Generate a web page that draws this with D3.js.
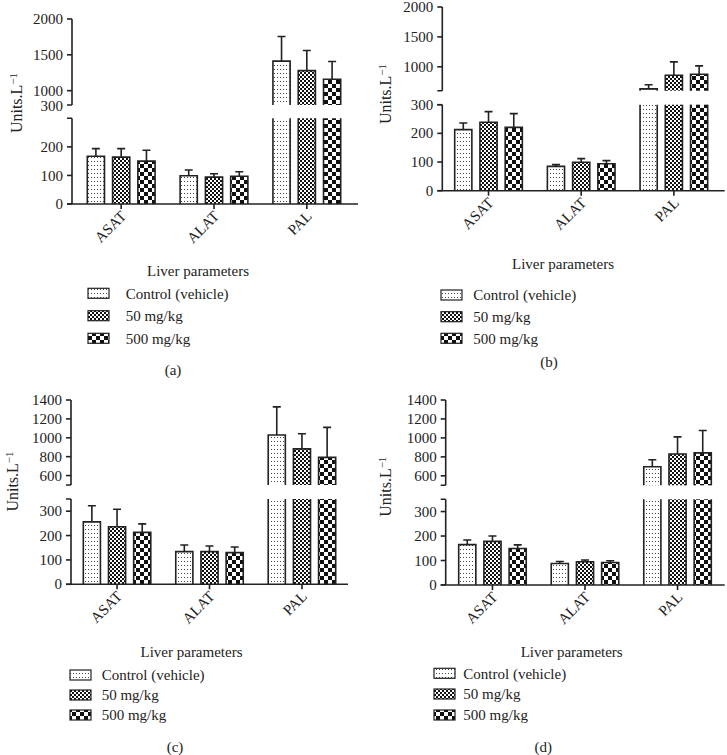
<!DOCTYPE html>
<html><head><meta charset="utf-8">
<script src="https://cdn.jsdelivr.net/npm/d3@7"></script>
<style>body{margin:0;background:#fff}svg{display:block}text{font-family:"Liberation Serif","Times New Roman",serif;fill:#222}</style>
</head><body>
<svg id="c" width="727" height="755"></svg>
<script>
// ---------- DATA ----------
const groups = ["ASAT", "ALAT", "PAL"];
const seriesNames = ["Control (vehicle)", "50 mg/kg", "500 mg/kg"];
const panelLabels = ["(a)", "(b)", "(c)", "(d)"];
const xAxisTitle = "Liver parameters";
// means per group (rows) and series (columns)
const meansA = [[167, 164, 150], [99, 94, 97], [1412, 1280, 1160]];
const errA   = [[27, 30, 38], [20, 12, 16], [344, 280, 246]];
const meansB = [[213, 239, 221], [85, 99, 94], [630, 859, 875]];
const errB   = [[23, 37, 48], [6, 13, 11], [70, 223, 141]];
const meansC = [[256, 236, 213], [134, 134, 130], [1029, 883, 792]];
const errC   = [[66, 72, 35], [27, 23, 23], [298, 160, 318]];
const meansD = [[165, 178, 149], [88, 95, 92], [696, 831, 842]];
const errD   = [[19, 22, 15], [8, 7, 7], [74, 180, 236]];
// axis domains / ticks
const lowerDomainAB = [0, 300], upperDomainA = [800, 2000], upperDomainB = [600, 2000];
const lowerDomainCD = [0, 350], upperDomainCD = [500, 1400];
const lowerTicksA = [0, 100, 200], upperTicksA = [1000, 1500, 2000], breakLabelA = "300";
const lowerTicksB = [0, 100, 200, 300], upperTicksB = [1000, 1500, 2000];
const lowerTicksCD = [0, 100, 200, 300], upperTicksCD = [600, 800, 1000, 1200, 1400];

const panels = [
  {means: meansA, errs: errA, low: lowerDomainAB, up: upperDomainA, lt: lowerTicksA, ut: upperTicksA, breakLabel: breakLabelA},
  {means: meansB, errs: errB, low: lowerDomainAB, up: upperDomainB, lt: lowerTicksB, ut: upperTicksB},
  {means: meansC, errs: errC, low: lowerDomainCD, up: upperDomainCD, lt: lowerTicksCD, ut: upperTicksCD},
  {means: meansD, errs: errD, low: lowerDomainCD, up: upperDomainCD, lt: lowerTicksCD, ut: upperTicksCD}
];

// ---------- LAYOUT ----------
const layouts = [
  {yAxisX: 72, xEnd: 358, band: [87.3, 340.7], lowR: [204, 118.3], upR: [105, 19], ylab: [17, 103], xt: [198, 271], legX: 88, legTX: 125.7, legY: [293.3, 315.7, 338.3], title: [173, 370]},
  {yAxisX: 442.3, xEnd: 724.7, band: [454.7, 707.7], lowR: [190.7, 104.7], upR: [90.7, 7], ylab: [386, 94], xt: [563, 264], legX: 441, legTX: 473.3, legY: [295, 316.7, 338.3], title: [549, 361.7]},
  {yAxisX: 71, xEnd: 348, band: [83.3, 335.7], lowR: [584.3, 499], upR: [485, 400], ylab: [13, 481.5], xt: [191.5, 651.7], legX: 70, legTX: 101.7, legY: [675, 695, 715], title: [175, 746.7]},
  {yAxisX: 445.7, xEnd: 724.7, band: [458.7, 711.3], lowR: [585, 499.3], upR: [485.3, 400], ylab: [386, 486.7], xt: [571.7, 651.7], legX: 434, legTX: 463.3, legY: [673.3, 694, 715], title: [543.3, 746.7]}
];
const FS = 15;

const svg = d3.select("#c");
const defs = svg.append("defs");
// patterns
const pDots = defs.append("pattern").attr("id", "p0").attr("patternUnits", "userSpaceOnUse").attr("width", 3).attr("height", 4);
pDots.append("rect").attr("width", 3).attr("height", 4).attr("fill", "#fff");
pDots.append("rect").attr("x", 1).attr("y", 1).attr("width", 1).attr("height", 1).attr("fill", "#444");
const pFine = defs.append("pattern").attr("id", "p1").attr("patternUnits", "userSpaceOnUse").attr("width", 4).attr("height", 4);
pFine.append("rect").attr("width", 4).attr("height", 4).attr("fill", "#fff");
pFine.append("rect").attr("width", 2).attr("height", 2).attr("fill", "#111");
pFine.append("rect").attr("x", 2).attr("y", 2).attr("width", 2).attr("height", 2).attr("fill", "#111");
const pCoarse = defs.append("pattern").attr("id", "p2").attr("patternUnits", "userSpaceOnUse").attr("width", 8).attr("height", 8);
pCoarse.append("rect").attr("width", 8).attr("height", 8).attr("fill", "#fff");
pCoarse.append("rect").attr("width", 4).attr("height", 4).attr("fill", "#111");
pCoarse.append("rect").attr("x", 4).attr("y", 4).attr("width", 4).attr("height", 4).attr("fill", "#111");
const fills = ["url(#p0)", "url(#p1)", "url(#p2)"];

const SW = 1.6, TICK = 5;

panels.forEach((p, i) => {
  const L = layouts[i];
  const g = svg.append("g");
  const yLow = d3.scaleLinear().domain(p.low).range(L.lowR);
  const yUp = d3.scaleLinear().domain(p.up).range(L.upR);
  const x0 = d3.scaleBand().domain(groups).range(L.band).paddingInner(0.27).paddingOuter(0);
  const x1 = d3.scaleBand().domain(d3.range(3)).range([0, x0.bandwidth()]).paddingInner(0.32).paddingOuter(0);

  // bars
  groups.forEach((grp, gi) => {
    p.means[gi].forEach((v, si) => {
      const bx = x0(grp) + x1(si), bw = x1.bandwidth();
      const base = yLow(0);
      const lowTop = yLow(Math.min(v, p.low[1]));
      g.append("rect").attr("x", bx).attr("y", lowTop).attr("width", bw).attr("height", base - lowTop).attr("fill", fills[si]);
      let outline;
      if (v <= p.low[1]) {
        outline = `M${bx},${base}V${lowTop}H${bx + bw}V${base}`;
      } else {
        outline = `M${bx},${base}V${lowTop}M${bx + bw},${base}V${lowTop}`;
        const upB = yUp(p.up[0]), upT = yUp(v);
        g.append("rect").attr("x", bx).attr("y", upT).attr("width", bw).attr("height", upB - upT).attr("fill", fills[si]);
        outline += `M${bx},${upB}V${upT}H${bx + bw}V${upB}`;
      }
      g.append("path").attr("d", outline).attr("fill", "none").attr("stroke", "#222").attr("stroke-width", SW);
      // error bar (upper only)
      const e = v + p.errs[gi][si];
      const sc = v > p.low[1] ? yUp : yLow;
      const cx = bx + bw / 2;
      g.append("path").attr("d", `M${cx},${sc(v)}V${sc(e)}M${cx - 4},${sc(e)}H${cx + 4}`)
        .attr("fill", "none").attr("stroke", "#222").attr("stroke-width", SW);
    });
  });

  // y axis segments
  const ax = L.yAxisX;
  g.append("path").attr("d", `M${ax},${yLow(0)}V${yLow(p.low[1])}M${ax - TICK},${yLow(p.low[1])}H${ax}`)
    .attr("stroke", "#222").attr("stroke-width", SW).attr("fill", "none");
  g.append("path").attr("d", `M${ax},${yUp(p.up[0])}V${yUp(p.up[1])}M${ax - TICK},${yUp(p.up[0])}H${ax}`)
    .attr("stroke", "#222").attr("stroke-width", SW).attr("fill", "none");
  p.lt.forEach(t => {
    g.append("line").attr("x1", ax - TICK).attr("x2", ax).attr("y1", yLow(t)).attr("y2", yLow(t)).attr("stroke", "#222").attr("stroke-width", SW);
    g.append("text").attr("x", ax - TICK - 4).attr("y", yLow(t)).attr("dy", "0.34em").attr("text-anchor", "end").attr("font-size", FS).text(t);
  });
  p.ut.forEach(t => {
    g.append("line").attr("x1", ax - TICK).attr("x2", ax).attr("y1", yUp(t)).attr("y2", yUp(t)).attr("stroke", "#222").attr("stroke-width", SW);
    g.append("text").attr("x", ax - TICK - 4).attr("y", yUp(t)).attr("dy", "0.34em").attr("text-anchor", "end").attr("font-size", FS).text(t);
  });
  if (p.breakLabel) {
    g.append("text").attr("x", ax - TICK - 4).attr("y", yUp(p.up[0]) + 1).attr("dy", "0.34em").attr("text-anchor", "end").attr("font-size", FS).text(p.breakLabel);
  }

  // x axis
  const base = yLow(0);
  g.append("line").attr("x1", ax - TICK).attr("x2", L.xEnd).attr("y1", base).attr("y2", base).attr("stroke", "#222").attr("stroke-width", SW);
  groups.forEach(grp => {
    const cx = x0(grp) + x0.bandwidth() / 2;
    g.append("line").attr("x1", cx).attr("x2", cx).attr("y1", base).attr("y2", base + TICK).attr("stroke", "#222").attr("stroke-width", SW);
    g.append("text").attr("transform", `translate(${cx + 6},${base + 13}) rotate(-45)`).attr("text-anchor", "end").attr("font-size", FS).text(grp);
  });

  // y label
  const yl = g.append("text").attr("transform", `translate(${L.ylab[0] + 5},${L.ylab[1]}) rotate(-90)`).attr("text-anchor", "middle").attr("font-size", 16);
  yl.append("tspan").text("Units.L");
  yl.append("tspan").attr("dy", "-0.45em").attr("font-size", 11).text("−1");

  // x title
  g.append("text").attr("x", L.xt[0]).attr("y", L.xt[1]).attr("dy", "0.35em").attr("text-anchor", "middle").attr("font-size", FS).text(xAxisTitle);

  // legend
  seriesNames.forEach((s, si) => {
    const ly = L.legY[si];
    g.append("rect").attr("x", L.legX).attr("y", ly - 5).attr("width", 21).attr("height", 10).attr("fill", fills[si]).attr("stroke", "#222").attr("stroke-width", 1.2);
    g.append("text").attr("x", L.legTX).attr("y", ly).attr("dy", "0.35em").attr("font-size", FS).text(s);
  });

  // panel label
  g.append("text").attr("x", L.title[0]).attr("y", L.title[1]).attr("dy", "0.35em").attr("text-anchor", "middle").attr("font-size", FS).text(panelLabels[i]);
});
</script>
</body></html>
